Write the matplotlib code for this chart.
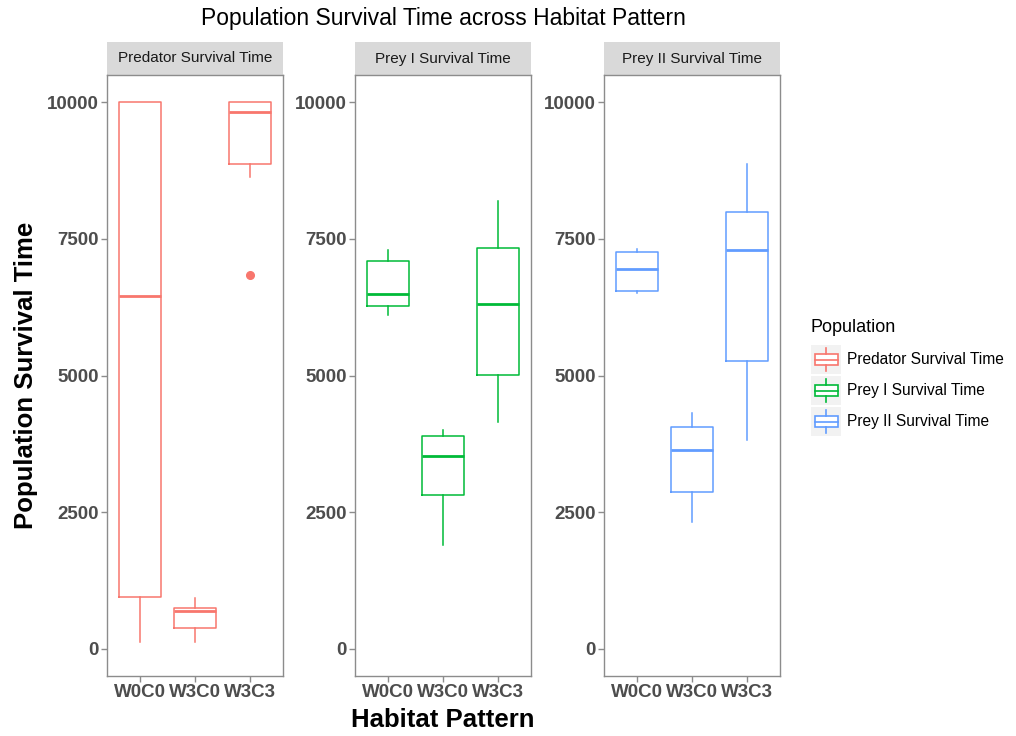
"""
Population survival time across habitat pattern, faceted boxplots
"""
import matplotlib
matplotlib.use('Agg')
import matplotlib.pyplot as plt
from matplotlib.patches import Rectangle
from matplotlib.lines import Line2D
from matplotlib.legend_handler import HandlerBase

plt.rcParams['font.family'] = ['Liberation Sans', 'DejaVu Sans']

# categories
habitats = ['W0C0', 'W3C0', 'W3C3']
populations = ['Predator Survival Time', 'Prey I Survival Time', 'Prey II Survival Time']
colors = ['#F8766D', '#00BA38', '#619CFF']

# box statistics, one row per population, one value per habitat
whislo = [[130, 120, 8640], [6110, 1890, 4140], [6510, 2310, 3820]]
q1 = [[950, 380, 8870], [6270, 2810, 5010], [6540, 2860, 5260]]
med = [[6460, 690, 9820], [6500, 3520, 6310], [6950, 3640, 7300]]
q3 = [[10000, 750, 10000], [7090, 3900, 7330], [7260, 4050, 8000]]
whishi = [[10000, 930, 10000], [7290, 4000, 8200], [7310, 4320, 8870]]
fliers = [[[], [], [6840]], [[], [], []], [[], [], []]]

yticks = [0, 2500, 5000, 7500, 10000]

TICK_COL = '#4D4D4D'
FRAME_COL = '#8C8C8C'


class BoxHandler(HandlerBase):
    """draws a little boxplot glyph on a grey key, like ggplot does"""
    def create_artists(self, legend, orig_handle, xdescent, ydescent,
                       width, height, fontsize, trans):
        c = orig_handle.get_color()
        bg = Rectangle((-xdescent, -ydescent), width, height,
                       facecolor='#F2F2F2', edgecolor='none', transform=trans)
        bx0 = -xdescent + width * 0.13
        bw = width * 0.74
        by0 = -ydescent + height * 0.3
        bh = height * 0.4
        box = Rectangle((bx0, by0), bw, bh, facecolor='white',
                        edgecolor=c, linewidth=1.2, transform=trans)
        xm = -xdescent + width / 2
        mid = Line2D([bx0, bx0 + bw], [by0 + bh / 2] * 2, color=c, lw=1.2, transform=trans)
        top = Line2D([xm, xm], [by0 + bh, -ydescent + height * 0.9], color=c, lw=1.2, transform=trans)
        bot = Line2D([xm, xm], [-ydescent + height * 0.1, by0], color=c, lw=1.2, transform=trans)
        return [bg, box, mid, top, bot]


fig = plt.figure(figsize=(10.16, 7.36), dpi=100)

lefts = [107 / 1016, 355 / 1016, 604 / 1016]
bottom = 60 / 736
width = 176 / 1016
height = 601 / 736
strip_h = 33 / 601

positions = list(range(1, len(habitats) + 1))

for i, pop in enumerate(populations):
    ax = fig.add_axes([lefts[i], bottom, width, height])
    c = colors[i]
    stats = []
    for j, h in enumerate(habitats):
        stats.append(dict(label=h, whislo=whislo[i][j], q1=q1[i][j], med=med[i][j],
                          q3=q3[i][j], whishi=whishi[i][j], fliers=fliers[i][j]))
    ax.bxp(stats, positions=positions, widths=0.75, showcaps=False, showfliers=True,
           boxprops=dict(color=c, linewidth=1.1),
           medianprops=dict(color=c, linewidth=2.0),
           whiskerprops=dict(color=c, linewidth=1.1),
           flierprops=dict(marker='o', markerfacecolor=c, markeredgecolor=c, markersize=5.5))

    ax.set_xlim(0.4, 3.6)
    ax.set_ylim(-500, 10500)
    ax.set_xticks(positions)
    ax.set_xticklabels(habitats)
    ax.set_yticks(yticks)
    ax.set_yticklabels([str(v) for v in yticks])
    for lbl in ax.get_xticklabels() + ax.get_yticklabels():
        lbl.set_fontweight('bold')
    ax.tick_params(axis='both', labelsize=13.5, colors=TICK_COL, length=4, width=1, pad=2,
                   color=FRAME_COL)
    for sp in ax.spines.values():
        sp.set_color(FRAME_COL)
        sp.set_linewidth(1.0)

    # facet strip
    ax.add_patch(Rectangle((0, 1), 1, strip_h, transform=ax.transAxes, clip_on=False,
                           facecolor='#D9D9D9', edgecolor='none'))
    ax.text(0.5, 1 + strip_h / 2, pop, transform=ax.transAxes, ha='center', va='center',
            fontsize=11, color='#1A1A1A')

fig.text(443 / 1016, 1 - 18 / 736, 'Population Survival Time across Habitat Pattern',
         ha='center', va='center', fontsize=16.5, color='black')
fig.text(26 / 1016, 1 - 375 / 736, 'Population Survival Time', rotation=90,
         ha='center', va='center', fontsize=18.5, fontweight='bold')
fig.text(443 / 1016, 1 - 720 / 736, 'Habitat Pattern',
         ha='center', va='center', fontsize=18.5, fontweight='bold')

# legend title kept apart so the gap above the keys can match
fig.text(811 / 1016, 1 - 328 / 736, 'Population', ha='left', va='center', fontsize=13)
handles = [Line2D([], [], color=c) for c in colors]
leg = fig.legend(handles, populations, loc='upper left',
                 bbox_to_anchor=(808 / 1016, 1 - 342 / 736),
                 fontsize=11.2, frameon=False, handler_map={Line2D: BoxHandler()},
                 handlelength=1.95, handleheight=2.5, labelspacing=0.12,
                 handletextpad=0.35, borderpad=0.2, borderaxespad=0)

fig.savefig('out.png', dpi=100)
